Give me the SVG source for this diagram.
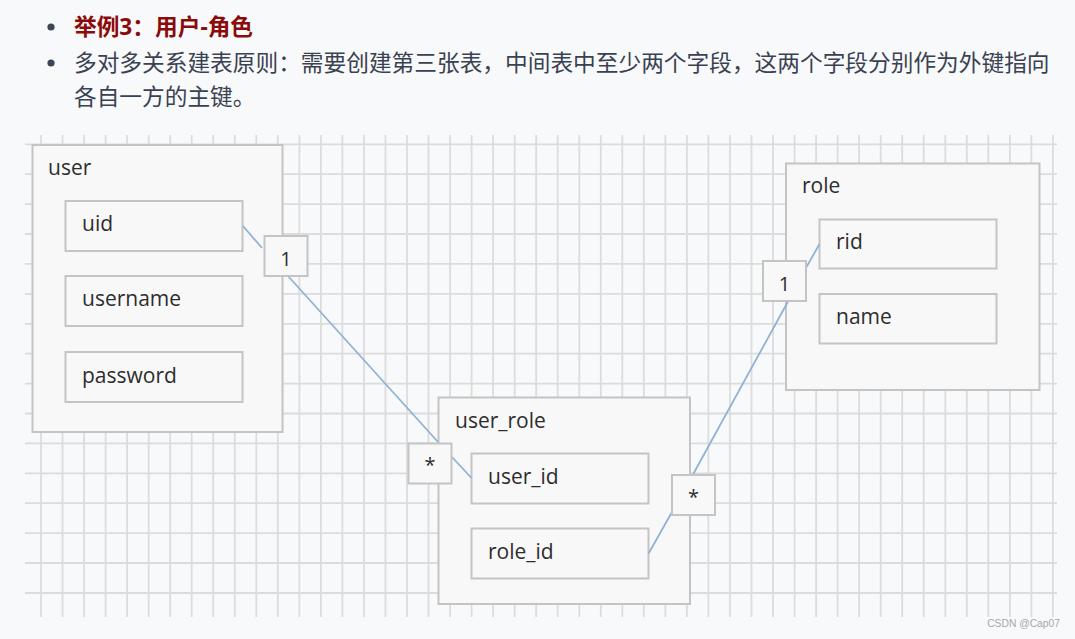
<svg xmlns="http://www.w3.org/2000/svg" width="1075" height="639" viewBox="0 0 1075 639">
<style>
.bg{fill:#f8f9fa}
.grid{stroke:#dcdcdc;stroke-width:1.8;fill:none}
.tbl{fill:#f8f8f8;stroke:#c4c4c4;stroke-width:2}
.fld{fill:#f8f8f8;stroke:#c4c4c4;stroke-width:2}
.lbl{fill:#f8f8f8;stroke:#c4c4c4;stroke-width:2}
.t{font-family:"Open Sans","Noto Sans",sans-serif;font-size:21px;fill:#2d2d2d}
.lt{font-family:"Open Sans","Noto Sans",sans-serif;font-size:20px;fill:#2d2d2d;text-anchor:middle}
.conn{stroke:#93b1d6;stroke-width:1.8;fill:none}
.head{font-family:"Noto Sans","Noto Sans CJK SC",sans-serif;font-size:22.7px}
</style>
<rect class="bg" x="0" y="0" width="1075" height="639"/>
<g id="header">
<circle cx="51" cy="27" r="3.6" fill="#3c4656"/>
<circle cx="51" cy="63" r="3.6" fill="#3c4656"/>
<text class="head" x="74" y="34.5" fill="#8b0a0a" font-weight="bold">举例3：用户-角色</text>
<text class="head" x="74" y="70.5" fill="#3a4150">多对多关系建表原则：需要创建第三张表，中间表中至少两个字段，这两个字段分别作为外键指向</text>
<text class="head" x="74" y="104.5" fill="#3a4150">各自一方的主键。</text>
</g>
<g id="grid">
<path class="grid" d="M41 135V617M62.5 135V617M84.1 135V617M105.6 135V617M127.1 135V617M148.7 135V617M170.2 135V617M191.7 135V617M213.2 135V617M234.8 135V617M256.3 135V617M277.8 135V617M299.4 135V617M320.9 135V617M342.4 135V617M364 135V617M385.5 135V617M407 135V617M428.5 135V617M450.1 135V617M471.6 135V617M493.1 135V617M514.7 135V617M536.2 135V617M557.7 135V617M579.3 135V617M600.8 135V617M622.3 135V617M643.8 135V617M665.4 135V617M686.9 135V617M708.4 135V617M730 135V617M751.5 135V617M773 135V617M794.6 135V617M816.1 135V617M837.6 135V617M859.1 135V617M880.7 135V617M902.2 135V617M923.7 135V617M945.3 135V617M966.8 135V617M988.3 135V617M1009.9 135V617M1031.4 135V617M1052.9 135V617"/>
<path class="grid" d="M25 144.3H1057M25 174.2H1057M25 204.1H1057M25 234H1057M25 263.9H1057M25 293.9H1057M25 323.8H1057M25 353.7H1057M25 383.6H1057M25 413.5H1057M25 443.4H1057M25 473.3H1057M25 503.2H1057M25 533.1H1057M25 563H1057M25 593H1057"/>
</g>
<g id="user">
<rect class="tbl" x="32.5" y="145" width="250" height="287"/>
<text class="t" x="48" y="175">user</text>
<rect class="fld" x="65.5" y="201" width="177" height="50"/>
<text class="t" x="82" y="231">uid</text>
<rect class="fld" x="65.5" y="276" width="177" height="50"/>
<text class="t" x="82" y="306">username</text>
<rect class="fld" x="65.5" y="352" width="177" height="50"/>
<text class="t" x="82" y="383">password</text>
</g>
<g id="user_role">
<rect class="tbl" x="438.5" y="397.5" width="251.5" height="206.5"/>
<text class="t" x="455" y="428">user_role</text>
<rect class="fld" x="471.5" y="453.5" width="177" height="50"/>
<text class="t" x="488" y="484">user_id</text>
<rect class="fld" x="471.5" y="528.5" width="177" height="50"/>
<text class="t" x="488" y="559">role_id</text>
</g>
<g id="role">
<rect class="tbl" x="786" y="163.5" width="253.5" height="226.5"/>
<text class="t" x="802" y="193">role</text>
<rect class="fld" x="819.5" y="219.5" width="177" height="49"/>
<text class="t" x="836" y="249">rid</text>
<rect class="fld" x="819.5" y="294" width="177" height="49.5"/>
<text class="t" x="836" y="324">name</text>
</g>
<g id="connectors">
<path class="conn" d="M243 226L262 248M288 276L438 442M452 457L471.5 478"/>
<path class="conn" d="M648.7 553.3L672 512M692.7 475L788 301.5M806.5 267L819.5 244"/>
<g id="label-user-1">
<rect class="lbl" x="264.5" y="236" width="43" height="40"/>
<text class="lt" x="286" y="266">1</text>
</g>
<g id="label-user-many">
<rect class="lbl" x="408.5" y="443.5" width="43" height="40"/>
<text class="lt" x="430" y="472">*</text>
</g>
<g id="label-role-many">
<rect class="lbl" x="672" y="475" width="43" height="40"/>
<text class="lt" x="693.5" y="504">*</text>
</g>
<g id="label-role-1">
<rect class="lbl" x="763" y="261" width="43" height="40"/>
<text class="lt" x="784.5" y="291">1</text>
</g>
</g>
<text x="1060" y="627" font-family="Liberation Sans, Arial, sans-serif" font-size="10.3" fill="#a8a8a8" text-anchor="end">CSDN @Cap07</text>
</svg>
